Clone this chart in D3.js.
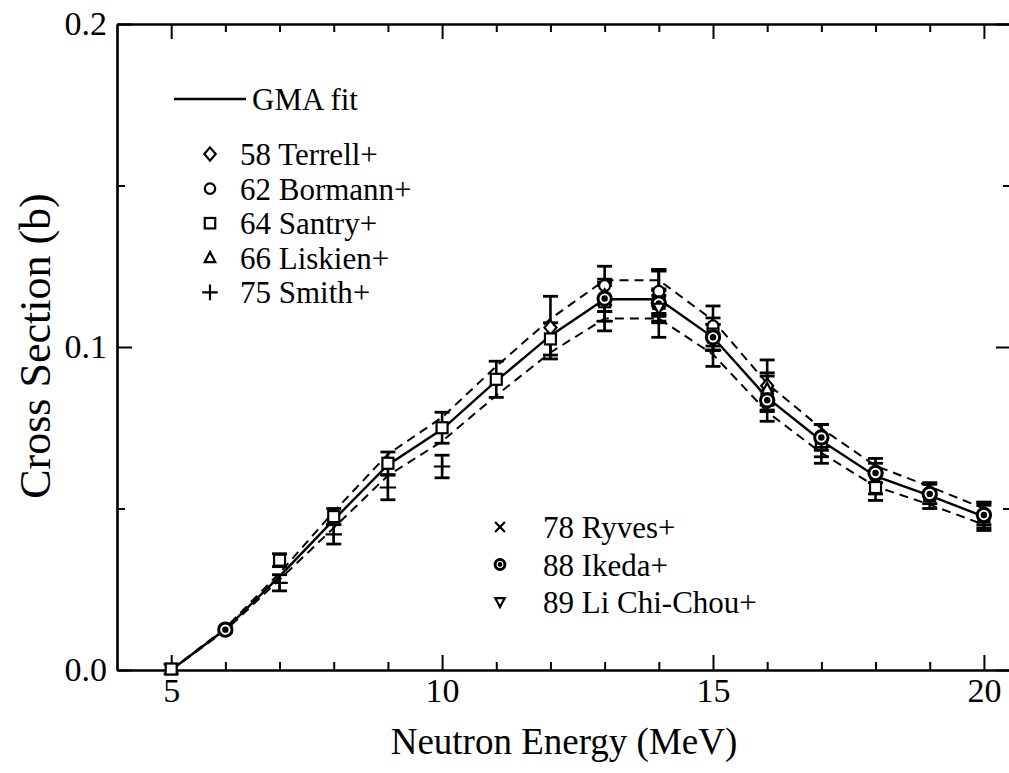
<!DOCTYPE html>
<html>
<head>
<meta charset="utf-8">
<script src="https://cdnjs.cloudflare.com/ajax/libs/d3/7.8.5/d3.min.js"></script>
<style>
  body { margin: 0; background: #fff; }
  svg text { font-family: "Liberation Serif", "DejaVu Serif", serif !important; fill: #000; }
</style>
</head>
<body>
<div id="chart"></div>
<script>
// GMA fit and its uncertainty band
var fitE = [5, 6, 7, 8, 9, 10, 11, 12, 13, 14, 15, 16, 17, 18, 19, 20];
var fitV = [0.0, 0.0126, 0.0290, 0.0465, 0.0635, 0.0745, 0.0895, 0.1035, 0.1148, 0.1148, 0.1030, 0.0843, 0.0710, 0.0600, 0.0540, 0.0475];
var fitHi = [0.0, 0.0130, 0.0300, 0.0490, 0.0668, 0.0782, 0.0940, 0.1087, 0.1207, 0.1207, 0.1083, 0.0887, 0.0748, 0.0632, 0.0568, 0.0500];
var fitLo = [0.0, 0.0122, 0.0280, 0.0440, 0.0602, 0.0708, 0.0850, 0.0983, 0.1088, 0.1088, 0.0977, 0.0799, 0.0672, 0.0568, 0.0512, 0.0450];

// experimental data: energy, value, error
var terrellE = [12, 14, 16];
var terrellV = [0.1060, 0.1155, 0.0880];
var terrellErr = [0.0097, 0.0080, 0.0080];

var bormannE = [13, 14, 15, 18, 20];
var bormannV = [0.1190, 0.1172, 0.1065, 0.0600, 0.0480];
var bormannErr = [0.0060, 0.0068, 0.0062, 0.0055, 0.0040];

var santryE = [5, 7, 8, 9, 10, 11, 12, 13, 14, 15, 16, 17, 18, 19, 20];
var santryV = [0.0003, 0.0340, 0.0475, 0.0640, 0.0750, 0.0900, 0.1025, 0.1140, 0.1135, 0.1040, 0.0840, 0.0700, 0.0565, 0.0540, 0.0475];
var santryErr = [0.0015, 0.0020, 0.0025, 0.0035, 0.0048, 0.0056, 0.0050, 0.0060, 0.0105, 0.0050, 0.0070, 0.0060, 0.0040, 0.0040, 0.0043];

var liskienE = [13, 16];
var liskienV = [0.1160, 0.0870];
var liskienErr = [0.0050, 0.0050];

var smithE = [7, 8, 9, 10, 13, 15, 17];
var smithV = [0.0270, 0.0420, 0.0565, 0.0630, 0.1080, 0.0990, 0.0690];
var smithErr = [0.0025, 0.0030, 0.0038, 0.0035, 0.0030, 0.0050, 0.0030];

var ryvesE = [14, 15];
var ryvesV = [0.1140, 0.1030];
var ryvesErr = [0.0040, 0.0040];

var ikedaE = [6, 13, 14, 15, 16, 17, 18, 19, 20];
var ikedaV = [0.0125, 0.1150, 0.1135, 0.1030, 0.0835, 0.0720, 0.0610, 0.0545, 0.0480];
var ikedaErr = [0.0008, 0.0040, 0.0040, 0.0040, 0.0030, 0.0040, 0.0030, 0.0030, 0.0030];

var liE = [14];
var liV = [0.1120];
var liErr = [0.0040];

var legendTop = ["58 Terrell+", "62 Bormann+", "64 Santry+", "66 Liskien+", "75 Smith+"];
var legendBottom = ["78 Ryves+", "88 Ikeda+", "89 Li Chi-Chou+"];

var xMajor = [5, 10, 15, 20];
var xMinor = [6, 7, 8, 9, 11, 12, 13, 14, 16, 17, 18, 19];
var yMajor = [0, 0.1, 0.2];
var yMinor = [0.05, 0.15];

var serif = "'Liberation Serif', 'DejaVu Serif', serif";
var width = 1009, height = 773;
var svg = d3.select("#chart").append("svg")
  .attr("width", width)
  .attr("height", height)
  .attr("font-family", serif);

var x = d3.scaleLinear().domain([4, 20.5]).range([117, 1011]);
var y = d3.scaleLinear().domain([0, 0.2]).range([670, 24]);

function zip(E, V, Err) {
  return E.map(function(e, i) { return { e: e, v: V[i], err: Err[i] }; });
}

var series = [
  { name: "terrell", data: zip(terrellE, terrellV, terrellErr), type: "diamond" },
  { name: "bormann", data: zip(bormannE, bormannV, bormannErr), type: "circle" },
  { name: "santry", data: zip(santryE, santryV, santryErr), type: "square" },
  { name: "liskien", data: zip(liskienE, liskienV, liskienErr), type: "triangle" },
  { name: "smith", data: zip(smithE, smithV, smithErr), type: "plus" },
  { name: "ryves", data: zip(ryvesE, ryvesV, ryvesErr), type: "times" },
  { name: "ikeda", data: zip(ikedaE, ikedaV, ikedaErr), type: "ikeda" },
  { name: "li", data: zip(liE, liV, liErr), type: "down" }
];

// axes
function styleAxis(g) {
  g.attr("font-family", serif);
  g.select(".domain").attr("stroke", "#000").attr("stroke-width", 2.2);
  g.selectAll(".tick line").attr("stroke", "#000").attr("stroke-width", 2);
  g.selectAll(".tick text").style("font-size", "34px").style("font-family", serif);
}

svg.append("g").attr("transform", "translate(0,670)")
  .call(d3.axisBottom(x).tickValues(xMajor).tickSizeInner(-15).tickSizeOuter(0).tickPadding(8).tickFormat(d3.format("d")))
  .call(styleAxis);
svg.append("g").attr("transform", "translate(0,670)")
  .call(d3.axisBottom(x).tickValues(xMinor).tickSizeInner(-8).tickSizeOuter(0).tickFormat(""))
  .call(styleAxis);
svg.append("g").attr("transform", "translate(0,24)")
  .call(d3.axisTop(x).tickValues(xMajor).tickSizeInner(-15).tickSizeOuter(0).tickFormat(""))
  .call(styleAxis);
svg.append("g").attr("transform", "translate(0,24)")
  .call(d3.axisTop(x).tickValues(xMinor).tickSizeInner(-8).tickSizeOuter(0).tickFormat(""))
  .call(styleAxis);

svg.append("g").attr("transform", "translate(117,0)")
  .call(d3.axisLeft(y).tickValues(yMajor).tickSizeInner(-15).tickSizeOuter(0).tickPadding(10).tickFormat(d3.format(".1f")))
  .call(styleAxis);
svg.append("g").attr("transform", "translate(117,0)")
  .call(d3.axisLeft(y).tickValues(yMinor).tickSizeInner(-8).tickSizeOuter(0).tickFormat(""))
  .call(styleAxis);
svg.append("g").attr("transform", "translate(1011,0)")
  .call(d3.axisRight(y).tickValues(yMajor).tickSizeInner(-15).tickSizeOuter(0).tickFormat(""))
  .call(styleAxis);
svg.append("g").attr("transform", "translate(1011,0)")
  .call(d3.axisRight(y).tickValues(yMinor).tickSizeInner(-8).tickSizeOuter(0).tickFormat(""))
  .call(styleAxis);

// axis titles
svg.append("text")
  .attr("x", 564).attr("y", 754)
  .attr("text-anchor", "middle")
  .style("font-size", "37px")
  .text("Neutron Energy (MeV)");
svg.append("text")
  .attr("transform", "translate(50,346) rotate(-90)")
  .attr("text-anchor", "middle")
  .style("font-size", "44px")
  .text("Cross Section (b)");

// fit curves
var line = d3.line().x(function(d) { return x(d[0]); }).y(function(d) { return y(d[1]); });
var plot = svg.append("g");
plot.append("path")
  .attr("d", line(fitE.map(function(e, i) { return [e, fitHi[i]]; })))
  .attr("fill", "none").attr("stroke", "#000").attr("stroke-width", 2)
  .attr("stroke-dasharray", "9,6");
plot.append("path")
  .attr("d", line(fitE.map(function(e, i) { return [e, fitLo[i]]; })))
  .attr("fill", "none").attr("stroke", "#000").attr("stroke-width", 2)
  .attr("stroke-dasharray", "9,6");
plot.append("path")
  .attr("d", line(fitE.map(function(e, i) { return [e, fitV[i]]; })))
  .attr("fill", "none").attr("stroke", "#000").attr("stroke-width", 2.4);

// error bars
series.forEach(function(s) {
  var g = plot.append("g").attr("class", s.name + "-err");
  g.selectAll("line.bar").data(s.data).enter().append("line")
    .attr("x1", function(d) { return x(d.e); }).attr("x2", function(d) { return x(d.e); })
    .attr("y1", function(d) { return y(d.v - d.err); }).attr("y2", function(d) { return y(d.v + d.err); })
    .attr("stroke", "#000").attr("stroke-width", 2.6);
  [-1, 1].forEach(function(sign) {
    g.selectAll("line.cap" + sign).data(s.data).enter().append("line")
      .attr("x1", function(d) { return x(d.e) - 7.5; }).attr("x2", function(d) { return x(d.e) + 7.5; })
      .attr("y1", function(d) { return y(d.v + sign * d.err); }).attr("y2", function(d) { return y(d.v + sign * d.err); })
      .attr("stroke", "#000").attr("stroke-width", 2.8);
  });
});

// markers
function drawMarker(g, type, cx, cy, scale) {
  var k = scale || 1;
  var m = g.append("g").attr("transform", "translate(" + cx + "," + cy + ")");
  var sym = d3.symbol();
  if (type === "diamond") {
    m.append("path").attr("d", "M0," + (-7 * k) + "L" + (6 * k) + ",0L0," + (7 * k) + "L" + (-6 * k) + ",0Z")
      .attr("fill", "#fff").attr("stroke", "#000").attr("stroke-width", 2.2);
  } else if (type === "circle") {
    m.append("circle").attr("r", 5.5 * k).attr("fill", "#fff").attr("stroke", "#000").attr("stroke-width", 2.2);
  } else if (type === "square") {
    m.append("rect").attr("x", -5.5 * k).attr("y", -5.5 * k).attr("width", 11 * k).attr("height", 11 * k)
      .attr("fill", "#fff").attr("stroke", "#000").attr("stroke-width", 2.2);
  } else if (type === "triangle") {
    m.append("path").attr("d", "M0," + (-6 * k) + "L" + (5.5 * k) + "," + (4.5 * k) + "L" + (-5.5 * k) + "," + (4.5 * k) + "Z")
      .attr("fill", "#fff").attr("stroke", "#000").attr("stroke-width", 2.2);
  } else if (type === "down") {
    m.append("path").attr("d", "M0," + (6 * k) + "L" + (5.5 * k) + "," + (-4.5 * k) + "L" + (-5.5 * k) + "," + (-4.5 * k) + "Z")
      .attr("fill", "#fff").attr("stroke", "#000").attr("stroke-width", 2.2);
  } else if (type === "plus") {
    m.append("path").attr("d", sym.type(d3.symbolPlus).size(90 * k * k)())
      .attr("fill", "none").attr("stroke", "#000").attr("stroke-width", 2.2);
  } else if (type === "times") {
    m.append("path").attr("d", sym.type(d3.symbolTimes).size(90 * k * k)())
      .attr("fill", "none").attr("stroke", "#000").attr("stroke-width", 2.2);
  } else if (type === "ikeda") {
    m.append("circle").attr("r", 5.8 * k).attr("fill", "#fff").attr("stroke", "#000").attr("stroke-width", 3);
    m.append("circle").attr("r", 2.8 * k).attr("fill", "#000");
  }
}

series.forEach(function(s) {
  var g = plot.append("g").attr("class", s.name);
  s.data.forEach(function(d) {
    drawMarker(g, s.type, x(d.e), y(d.v), s.type === "ikeda" ? 1.15 : 1);
  });
});

// legend
var leg = svg.append("g");
leg.append("line").attr("x1", 174).attr("x2", 246).attr("y1", 99).attr("y2", 99)
  .attr("stroke", "#000").attr("stroke-width", 2.4);
leg.append("text").attr("x", 252).attr("y", 110).style("font-size", "31px").text("GMA fit");

var topTypes = ["diamond", "circle", "square", "triangle", "plus"];
legendTop.forEach(function(t, i) {
  var yy = 154 + i * 34.6;
  drawMarker(leg, topTypes[i], 210, yy, 0.95);
  leg.append("text").attr("x", 240).attr("y", yy + 11).style("font-size", "31px").text(t);
});
var bottomTypes = ["times", "ikeda", "down"];
legendBottom.forEach(function(t, i) {
  var yy = 527 + i * 37.5;
  drawMarker(leg, bottomTypes[i], 500, yy, 0.85);
  leg.append("text").attr("x", 543).attr("y", yy + 11).style("font-size", "31px").text(t);
});
</script>
</body>
</html>
